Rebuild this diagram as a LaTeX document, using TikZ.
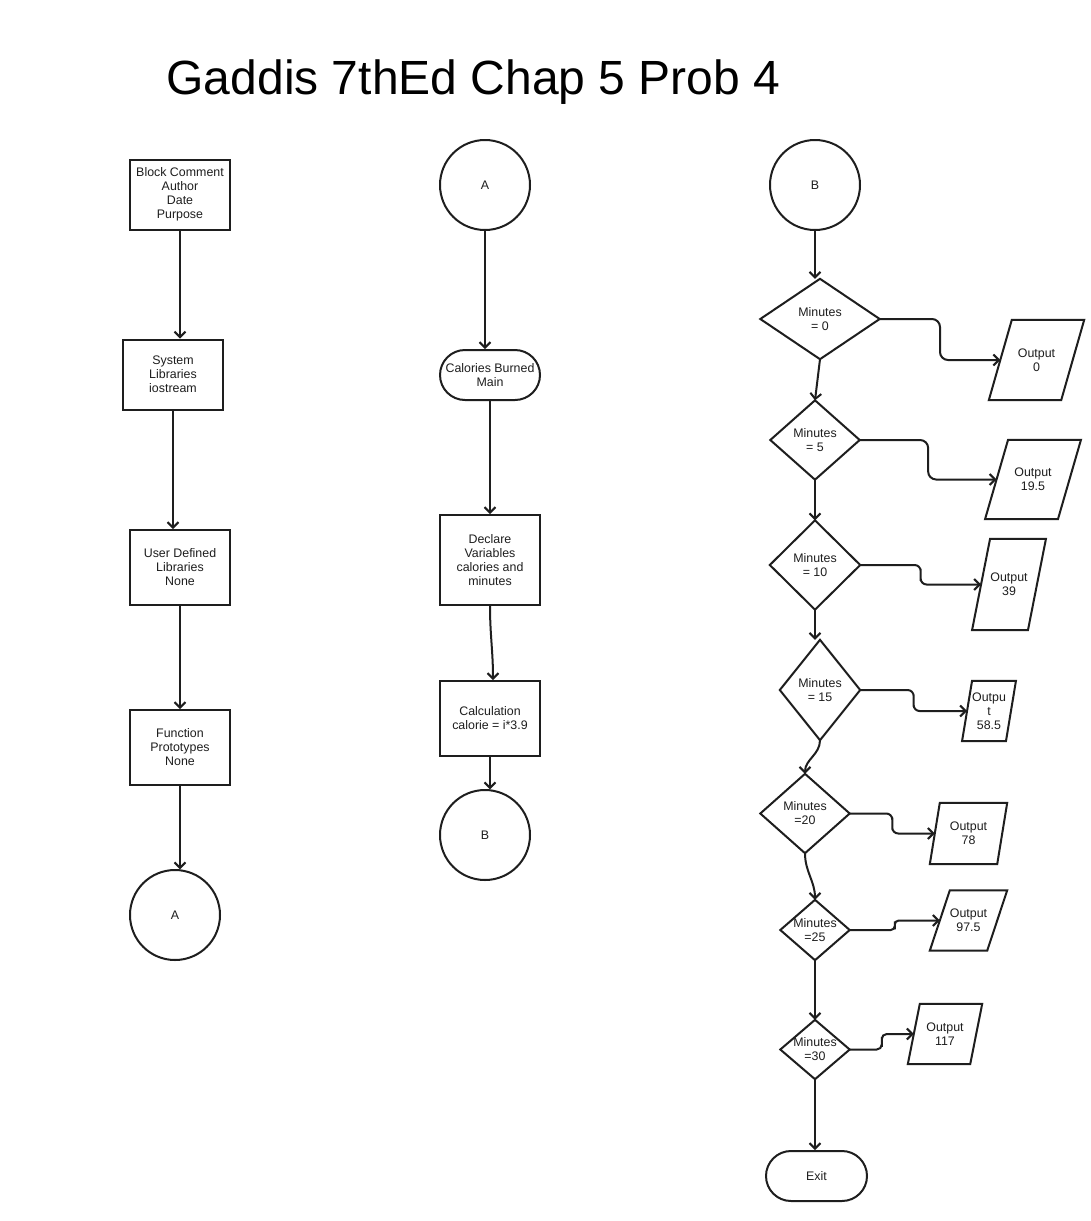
\documentclass[tikz,border=0pt]{standalone}
\usepackage{fontspec}
\setmainfont{Liberation Sans}
\usetikzlibrary{arrows.meta,calc}
\definecolor{ln}{RGB}{30,30,30}
\begin{document}
\begin{tikzpicture}[x=1pt,y=-1pt,
  every node/.style={font=\fontsize{12.4}{14}\selectfont, text=ln, align=center, inner sep=0pt},
  box/.style={draw=ln, line width=2pt, minimum width=100pt},
  circ/.style={draw=ln, line width=2pt, circle, minimum size=90pt},
  term/.style={draw=ln, line width=2pt, rounded corners=25pt, minimum width=100pt, minimum height=50pt},
  dec/.style={draw=none},
  shp/.style={draw=ln, line width=2pt, line join=miter},
  arr/.style={draw=ln, line width=2pt, -{Straight Barb[length=5.5pt,width=11pt]}}]
\useasboundingbox (0,0) rectangle (1091,1221);
\fill[white] (0,0) rectangle (1091,1221);

% title
\node[font=\fontsize{48}{56}\selectfont, text=black, anchor=base] (title) at (473.5,94) {Gaddis 7thEd Chap 5 Prob 4};

% left column
\node[box, minimum height=70pt] (bc) at (180,194.5) {Block Comment\\Author\\Date\\Purpose};
\node[box, minimum height=70pt] (sl) at (173,374.5) {System\\Libraries\\iostream};
\node[box, minimum height=75pt] (ud) at (180,567.5) {User Defined\\Libraries\\None};
\node[box, minimum height=75pt] (fp) at (180,747.5) {Function\\Prototypes\\None};
\node[circ] (a1) at (175,915) {A};

\draw[arr] (bc.south) -- (bc.south |- sl.north);
\draw[arr] (sl.south) -- (sl.south |- ud.north);
\draw[arr] (ud.south) -- (fp.north);
\draw[arr] (fp.south) -- ($(fp.south |- a1.north)+(0,0.3)$);

% middle column
\node[circ] (a2) at (485,185) {A};
\node[term] (cb) at (490,375) {Calories Burned\\Main};
\node[box, minimum height=90pt] (dv) at (490,560) {Declare\\Variables\\calories and\\minutes};
\node[box, minimum height=75pt] (calc) at (490,718.5) {Calculation\\calorie = i*3.9};
\node[circ] (b2) at (485,835) {B};

\draw[arr] (a2.south) -- (a2.south |- cb.north);
\draw[arr] (cb.south) -- (dv.north);
\draw[arr] (dv.south) to[out=-90,in=90] ([xshift=3pt]calc.north);
\draw[arr] (calc.south) -- ($(calc.south |- b2.north)+(0,0.3)$);

% right column
\node[circ] (b3) at (815,185) {B};
\node[dec, minimum width=119pt, minimum height=80pt] (d0) at (820,319) {Minutes\\= 0};
\node[dec, minimum width=89pt, minimum height=79pt] (d5) at (815,440) {Minutes\\= 5};
\node[dec, minimum width=90pt, minimum height=89pt] (d10) at (815,565) {Minutes\\= 10};
\node[dec, minimum width=80pt, minimum height=100pt] (d15) at (820,690) {Minutes\\= 15};
\node[dec, minimum width=89pt, minimum height=79pt] (d20) at (805,813.5) {Minutes\\=20};
\node[dec, minimum width=69pt, minimum height=60pt] (d25) at (815,930) {Minutes\\=25};
\node[dec, minimum width=69pt, minimum height=59pt] (d30) at (815,1049.5) {Minutes\\=30};
\node[term, minimum width=101pt] (ex) at (816.5,1176) {Exit};

\foreach \n in {d0,d5,d10,d15,d20,d25,d30}
  \draw[shp] (\n.north) -- (\n.east) -- (\n.south) -- (\n.west) -- cycle;

\node[minimum width=72pt, minimum height=80pt] (o0) at (1036.5,360) {Output\\0};
\node[minimum width=72.5pt, minimum height=79pt] (o19) at (1033,479.5) {Output\\19.5};
\node[minimum width=55.5pt, minimum height=91pt] (o39) at (1009,584.5) {Output\\39};
\node[minimum width=43.5pt, minimum height=60pt] (o58) at (989,711) {Outpu\\t\\58.5};
\node[minimum width=67pt, minimum height=61pt] (o78) at (968.5,833.5) {Output\\78};
\node[minimum width=57pt, minimum height=60pt] (o97) at (968.5,920.5) {Output\\97.5};
\node[minimum width=62pt, minimum height=60pt] (o117) at (945,1034) {Output\\117};

\foreach \n/\s in {o0/11.5, o19/11.5, o39/9, o58/5, o78/5, o97/10, o117/6}
  \draw[shp] ([xshift=\s pt]\n.north west) -- ([xshift=\s pt]\n.north east)
     -- ([xshift=-\s pt]\n.south east) -- ([xshift=-\s pt]\n.south west) -- cycle;

% vertical flow
\draw[arr] (b3.south) -- (b3.south |- d0.north);
\draw[arr] (d0.south) -- (d5.north);
\draw[arr] (d5.south) -- (d10.north);
\draw[arr] (d10.south) -- (d10.south |- d15.north);
\draw[arr] (d15.south) to[out=-90,in=90] (d20.north);
\draw[arr] (d20.south) to[out=-90,in=90] (d25.north);
\draw[arr] (d25.south) -- (d30.north);
\draw[arr] (d30.south) -- (d30.south |- ex.north);

% outputs
\draw[arr, rounded corners=8pt] (d0.east) -| ($(d0.east)!0.5!(o0.west)$) |- (o0.west);
\draw[arr, rounded corners=8pt] (d5.east) -| ($(d5.east)!0.5!(o19.west)$) |- (o19.west);
\draw[arr, rounded corners=6pt] (d10.east) -| ($(d10.east)!0.5!(o39.west)$) |- (o39.west);
\draw[arr, rounded corners=6pt] (d15.east) -| ($(d15.east)!0.5!(o58.west)$) |- (o58.west);
\draw[arr, rounded corners=6pt] (d20.east) -| ($(d20.east)!0.5!(o78.west)$) |- (o78.west);
\draw[arr, rounded corners=4pt] (d25.east) -| ($(d25.east)!0.5!(o97.west)$) |- (o97.west);
\draw[arr, rounded corners=5pt] (d30.east) -| ($(d30.east)!0.5!(o117.west)$) |- (o117.west);
\end{tikzpicture}
\end{document}
